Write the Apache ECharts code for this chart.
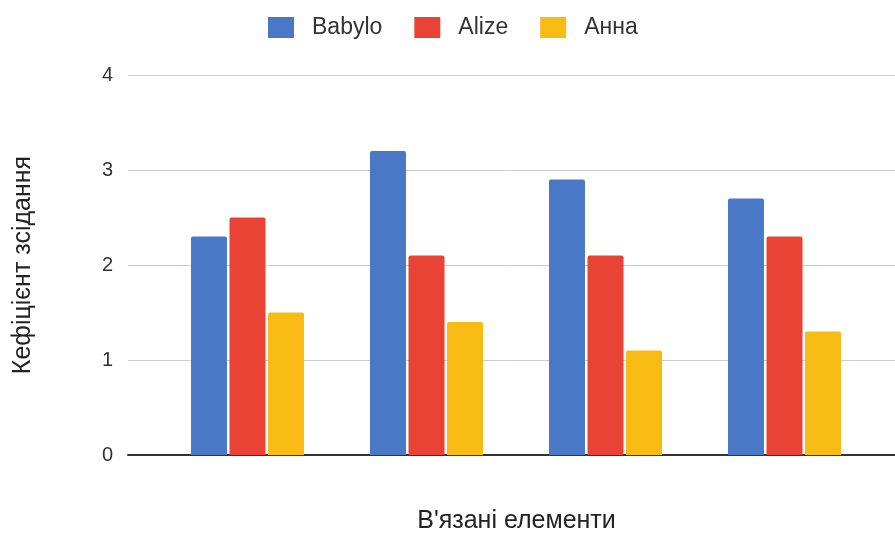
<!DOCTYPE html>
<html>
<head>
<meta charset="utf-8">
<script src="https://cdn.jsdelivr.net/npm/echarts@6/dist/echarts.min.js"></script>
<style>
html,body{margin:0;padding:0;background:#fff;}
#main{width:895px;height:533px;}
</style>
</head>
<body>
<div id="main"></div>
<script>
// дані графіка
var categories = ['1', '2', '3', '4'];
var seriesNames = ['Babylo', 'Alize', 'Анна'];
var babylo = [2.3, 3.2, 2.9, 2.7];
var alize = [2.5, 2.1, 2.1, 2.3];
var anna = [1.5, 1.4, 1.1, 1.3];
var yTicks = [0, 1, 2, 3, 4];

var colors = ['#4878c6', '#e94335', '#f7bb14'];
var font = 'Liberation Sans, Arial, sans-serif';

var chart = echarts.init(document.getElementById('main'));

function barSeries(name, data, i) {
	return {
		name: name,
		type: 'bar',
		xAxisIndex: 1,
		yAxisIndex: 1,
		data: data,
		barWidth: 36,
		barGap: '7%',
		itemStyle: {color: colors[i], borderRadius: [2, 2, 0, 0]}
	};
}

var option = {
	animation: false,
	color: colors,
	textStyle: {fontFamily: font},
	legend: {
		data: seriesNames,
		left: 263,
		top: 11,
		itemWidth: 26,
		itemHeight: 21,
		itemGap: 32,
		icon: 'rect',
		textStyle: {fontSize: 23, color: '#333', fontFamily: font, padding: [0, 0, 0, 13]}
	},
	grid: [
		// фон: сітка, підписи осі
		{left: 128, right: 0, top: 75, bottom: 78, outerBoundsMode: 'none'},
		// стовпчики
		{left: 158, right: 21, top: 75, bottom: 78, outerBoundsMode: 'none'}
	],
	xAxis: [
		{
			gridIndex: 0,
			type: 'value',
			min: 0,
			max: 1,
			axisLine: {show: true, lineStyle: {color: '#333', width: 2}},
			axisTick: {show: false},
			axisLabel: {show: false},
			splitLine: {show: false},
			name: "В'язані елементи",
			nameLocation: 'middle',
			nameGap: 54,
			nameTextStyle: {fontSize: 25, color: '#222', fontFamily: font, padding: [0, 0, 0, 10]}
		},
		{
			gridIndex: 1,
			type: 'category',
			data: categories,
			axisLine: {show: false},
			axisTick: {show: false},
			axisLabel: {show: false}
		}
	],
	yAxis: [
		{
			gridIndex: 0,
			type: 'value',
			min: yTicks[0],
			max: yTicks[yTicks.length - 1],
			interval: 1,
			axisLine: {show: false},
			axisTick: {show: false},
			axisLabel: {fontSize: 20, color: '#333', margin: 15, fontFamily: font},
			splitLine: {lineStyle: {color: '#cccccc', width: 1}},
			name: 'Кефіцієнт зсідання',
			nameLocation: 'middle',
			nameGap: 92,
			nameTextStyle: {fontSize: 25, color: '#222', fontFamily: font}
		},
		{
			gridIndex: 1,
			type: 'value',
			min: yTicks[0],
			max: yTicks[yTicks.length - 1],
			interval: 1,
			show: false
		}
	],
	series: [
		barSeries(seriesNames[0], babylo, 0),
		barSeries(seriesNames[1], alize, 1),
		barSeries(seriesNames[2], anna, 2)
	]
};

chart.setOption(option);
</script>
</body>
</html>
